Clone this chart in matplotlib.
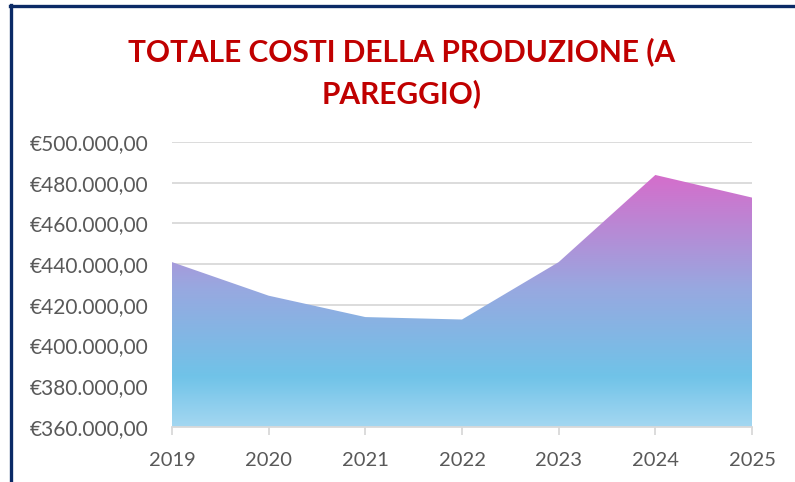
import matplotlib.pyplot as plt
import numpy as np
from matplotlib.colors import LinearSegmentedColormap
from matplotlib.lines import Line2D
from matplotlib.ticker import FuncFormatter

anni = [2019, 2020, 2021, 2022, 2023, 2024, 2025]
costi = [441000, 424500, 414000, 412800, 441000, 483800, 472700]

titolo = "TOTALE COSTI DELLA PRODUZIONE (A\nPAREGGIO)"

plt.rcParams['font.family'] = ['Lato', 'DejaVu Sans']

fig = plt.figure(figsize=(7.95, 4.82), dpi=100)
ax = fig.add_axes([172/795, 55/482, 580/795, 285/482])

ymin, ymax = 360000, 500000
x = np.arange(len(anni))

# riempimento sfumato (clip sul poligono dell'area)
poly = ax.fill_between(x, costi, ymin, color='none', lw=0)
cmap = LinearSegmentedColormap.from_list('sfumato', [
    (0.0, '#a4d7f1'), (0.2, '#70c3e8'), (0.55, '#98a8e0'), (1.0, '#d56dcb')])
grad = np.linspace(0, 1, 256).reshape(-1, 1)
img = ax.imshow(grad, extent=[x[0], x[-1], ymin, max(costi)], origin='lower',
                aspect='auto', cmap=cmap, zorder=2)
img.set_clip_path(poly.get_paths()[0], transform=ax.transData)

ax.set_xlim(x[0], x[-1])
ax.set_ylim(ymin, ymax)
ax.set_yticks(np.arange(ymin, ymax + 1, 20000))
ax.set_xticks(x)
ax.set_xticklabels([str(a) for a in anni])

def euro(v, pos):
    return '€' + f'{v:,.2f}'.replace(',', 'X').replace('.', ',').replace('X', '.')

ax.yaxis.set_major_formatter(FuncFormatter(euro))
ax.grid(axis='y', color='#d9d9d9', lw=1.3, zorder=1)
ax.set_axisbelow(True)
for s in ['left', 'right', 'top']:
    ax.spines[s].set_visible(False)
ax.spines['bottom'].set_color('#d9d9d9')
ax.spines['bottom'].set_linewidth(1.3)
ax.spines['bottom'].set_zorder(3)
ax.tick_params(axis='y', length=0, pad=17, labelsize=15, labelcolor='#595959')
ax.tick_params(axis='x', length=6, width=1.3, color='#d9d9d9', pad=12,
               labelsize=14.5, labelcolor='#595959')

fig.text(0.505, 0.85, titolo, ha='center', va='center', fontsize=21.5,
         fontweight='bold', color='#c00000', linespacing=1.55)

# bordo blu scuro
fig.add_artist(Line2D([11/795, 11/795], [0, 1 - 5/482], color='#0b2a66', lw=2.4))
fig.add_artist(Line2D([10/795, 1], [1 - 6/482, 1 - 6/482], color='#0b2a66', lw=2.4))

fig.savefig('out.png', dpi=100)
